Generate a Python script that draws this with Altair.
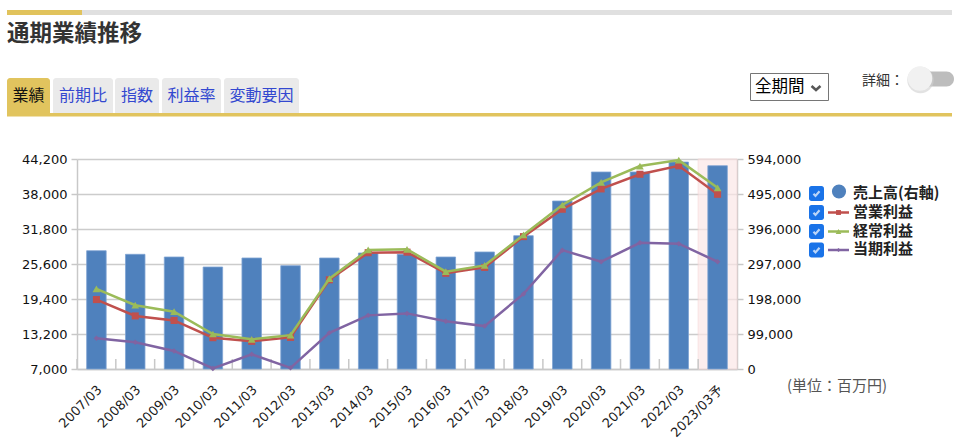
import altair as alt
import pandas as pd

categories = ["2007/03", "2008/03", "2009/03", "2010/03", "2011/03", "2012/03",
              "2013/03", "2014/03", "2015/03", "2016/03", "2017/03", "2018/03",
              "2019/03", "2020/03", "2021/03", "2022/03", "2023/03予"]
sales = [334600, 324400, 316800, 288500, 314000, 292200, 314000, 328100, 324400,
         316800, 331000, 377100, 475200, 557200, 557200, 585500, 575000]
op_income = [19300, 16400, 15600, 12550, 11900, 12600, 22800, 27600, 27700,
             23950, 25000, 30450, 35300, 38900, 41500, 43000, 37950]
ordinary = [21200, 18300, 17150, 13200, 12250, 13000, 23000, 28100, 28200,
            24250, 25350, 30750, 36050, 40050, 42950, 44000, 39100]
net = [12450, 11750, 10200, 7100, 9600, 7200, 13400, 16500, 16850, 15450,
       14600, 20300, 28050, 26000, 29350, 29200, 26000]
left_ticks = [7000, 13200, 19400, 25600, 31800, 38000, 44200]
right_ticks = [0, 99000, 198000, 297000, 396000, 495000, 594000]
series_names = ["売上高(右軸)", "営業利益", "経常利益", "当期利益"]
series_colors = ["#4f81bd", "#c0504d", "#9bbb59", "#8064a2"]
tabs = ["業績", "前期比", "指数", "利益率", "変動要因"]
forecast = ["2023/03予"]

OX, OY = 77, 159
W, H = 660, 210
JP = "Noto Sans CJK JP"
NUM = "DejaVu Sans, Noto Sans CJK JP"

df = pd.DataFrame({"cat": categories, "sales": sales, "op": op_income,
                   "ord": ordinary, "net": net})
xs = alt.Scale(type="band", domain=categories, paddingInner=0, paddingOuter=0)

def X(**kw):
    return alt.X("cat:N", scale=xs, **kw)

xaxis = alt.Axis(title=None, labelAngle=-45, labelFont=NUM, labelFontSize=13,
                 labelColor="#1a1a1a", ticks=False, domain=True, domainColor="#c8c8c8",
                 domainWidth=1.5, labelPadding=14, labelAlign="right",
                 labelBaseline="top", labelOffset=-1, labelOverlap=False, grid=False)
base_c = alt.Chart(df)

grid_l = base_c.mark_point(opacity=0).encode(
    x=X(axis=xaxis),
    y=alt.Y("net:Q", scale=alt.Scale(domain=[7000, 44200], nice=False, zero=False),
            axis=alt.Axis(orient="left", values=left_ticks, format=",d", title=None,
                          grid=True, gridColor="#cccccc", gridWidth=1.5,
                          labelFont=NUM, labelFontSize=13, labelColor="#111",
                          domainColor="#c8c8c8", domainWidth=1.5,
                          tickColor="#c8c8c8", tickWidth=1.5, tickSize=6,
                          labelPadding=4)))

bg = alt.Chart(pd.DataFrame({"cat": forecast})).mark_rect(
    fill="#fce8e8", opacity=0.7, stroke="#f6d8d8", strokeWidth=1).encode(
    x=X(axis=None), y=alt.value(0), y2=alt.value(H))

bticks = base_c.mark_rule(color="#c8c8c8", strokeWidth=1.5).encode(
    x=alt.X("cat:N", scale=xs, bandPosition=0, axis=None),
    y=alt.value(H - 10), y2=alt.value(H))

bars = base_c.mark_bar(size=19.5, color="#4f81bd", stroke="#7fa3d3",
                       strokeWidth=0.8).encode(
    x=X(axis=None),
    y=alt.Y("sales:Q", scale=alt.Scale(domain=[0, 594000], nice=False, zero=True),
            axis=alt.Axis(orient="right", values=right_ticks, format=",d", title=None,
                          grid=False, labelFont=NUM, labelFontSize=13,
                          labelColor="#111", domainColor="#c8c8c8", domainWidth=1.5,
                          tickColor="#c8c8c8", tickWidth=1.5, tickSize=6,
                          labelPadding=4)))

def lscale():
    return alt.Scale(domain=[7000, 44200], nice=False, zero=False)

def line_layers(field, color, shape, size):
    ln = base_c.mark_line(color=color, strokeWidth=2.5).encode(
        x=X(axis=None), y=alt.Y(f"{field}:Q", scale=lscale(), axis=None))
    pt = base_c.mark_point(color=color, shape=shape, size=size, filled=True,
                           opacity=1).encode(
        x=X(axis=None), y=alt.Y(f"{field}:Q", scale=lscale(), axis=None))
    return [ln, pt]

data_layers = (line_layers("net", series_colors[3], "diamond", 30)
               + line_layers("op", series_colors[1], "square", 50)
               + line_layers("ord", series_colors[2], "triangle-up", 60))

one = alt.Chart(pd.DataFrame({"k": [0]}))

def rect(x0, y0, x1, y1, fill, **kw):
    return one.mark_rect(fill=fill, **kw).encode(
        x=alt.value(x0 - OX), x2=alt.value(x1 - OX),
        y=alt.value(y0 - OY), y2=alt.value(y1 - OY))

def text(s, x, y, size, color, weight="normal", align="left", font=JP):
    return one.mark_text(align=align, baseline="middle", fontSize=size,
                         fontWeight=weight, color=color, font=font).encode(
        x=alt.value(x - OX), y=alt.value(y - OY), text=alt.value(s))

deco = []
deco.append(rect(7, 10, 952, 15, "#e0e0e0"))
deco.append(rect(7, 10, 82, 15, "#e1c35c"))
deco.append(text("通期業績推移", 7, 34, 22.5, "#333333", weight="bold"))
tab_x = [(7, 50), (53, 113), (115, 159), (162, 221), (224, 299)]
for i, (t, (a, b)) in enumerate(zip(tabs, tab_x)):
    fill = "#e1c45e" if i == 0 else "#eaeaea"
    deco.append(rect(a, 78, b, 114, fill, cornerRadiusTopLeft=3, cornerRadiusTopRight=3))
    deco.append(text(t, (a + b) / 2, 96, 16, "#111111" if i == 0 else "#3348d0",
                     align="center"))
deco.append(rect(7, 113, 952, 116.5, "#e1c45e"))
deco.append(rect(750.5, 73.5, 828.5, 100.5, "#ffffff", stroke="#767676", strokeWidth=1))
deco.append(text("全期間", 755, 87, 16.5, "#000000"))
deco.append(one.mark_point(shape="M-1,-0.45L0,0.45L1,-0.45", filled=False,
                           stroke="#111", strokeWidth=2.5, size=80).encode(
    x=alt.value(816 - OX), y=alt.value(88 - OY)))
deco.append(text("詳細：", 862, 81, 14, "#333333"))
deco.append(rect(912, 71.5, 954, 86.5, "#bdbdbd", cornerRadius=7.5))
deco.append(one.mark_point(shape="circle", filled=True, fill="#cfcfcf", size=700,
                           opacity=0.6).encode(x=alt.value(920.5 - OX), y=alt.value(80 - OY)))
deco.append(one.mark_point(shape="circle", filled=True, fill="#f1f1f1", size=600,
                           opacity=1).encode(x=alt.value(920 - OX), y=alt.value(78.5 - OY)))
leg_y = [193.5, 212.5, 231.5, 250]
shapes = [None, "square", "triangle-up", "diamond"]
sizes = [None, 24, 32, 18]
for i, (nm, col) in enumerate(zip(series_names, series_colors)):
    yy = leg_y[i]
    deco.append(rect(809, yy - 7.5, 824, yy + 7.5, "#1a73e8", cornerRadius=2.5))
    deco.append(one.mark_point(shape="M-0.75,0.05L-0.25,0.6L0.75,-0.55", filled=False,
                               stroke="#ffffff", strokeWidth=2.2, size=65).encode(
        x=alt.value(816.5 - OX), y=alt.value(yy - OY)))
    if i == 0:
        deco.append(one.mark_point(shape="circle", filled=True, fill=col, opacity=1,
                                   size=200).encode(
            x=alt.value(839 - OX), y=alt.value(yy - 2 - OY)))
    else:
        deco.append(one.mark_rule(color=col, strokeWidth=2.5).encode(
            x=alt.value(828 - OX), x2=alt.value(849 - OX), y=alt.value(yy - OY)))
        deco.append(one.mark_point(shape=shapes[i], filled=True, fill=col, opacity=1,
                                   size=sizes[i]).encode(
            x=alt.value(838.5 - OX), y=alt.value(yy - OY)))
    deco.append(text(nm, 853, yy - 1, 15, "#222222", weight="bold"))
deco.append(text("(単位：百万円)", 787, 386, 15, "#555555"))

chart = alt.layer(grid_l, bg, bticks, bars, *data_layers, *deco).resolve_scale(
    y="independent", x="independent").properties(
    width=W, height=H,
    autosize=alt.AutoSizeParams(type="none"),
    padding={"left": OX, "top": OY, "right": 967 - OX - W, "bottom": 447 - OY - H},
    background="#ffffff",
).configure_view(stroke=None)

chart.save("out.html", embed_options={"renderer": "svg", "actions": False})
